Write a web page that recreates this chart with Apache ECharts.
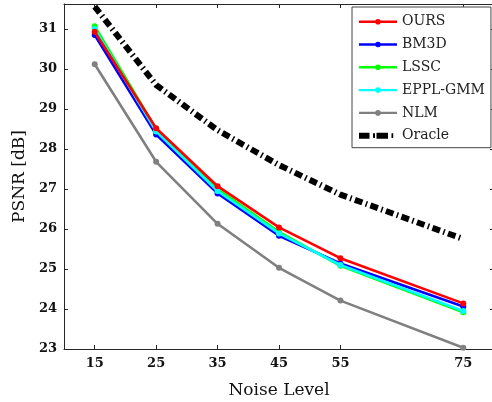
<!DOCTYPE html>
<html>
<head>
<meta charset="utf-8">
<script src="https://cdn.jsdelivr.net/npm/echarts@6/dist/echarts.min.js"></script>
<style>
html,body{margin:0;padding:0;background:#fff;}
#chart{width:492px;height:402px;}
</style>
</head>
<body>
<div id="chart"></div>
<script>
var noiseLevels = [15, 25, 35, 45, 55, 75];
var ours    = [30.93, 28.52, 27.07, 26.04, 25.27, 24.14];
var bm3d    = [30.85, 28.36, 26.89, 25.83, 25.14, 24.06];
var lssc    = [31.07, 28.50, 27.00, 25.93, 25.08, 23.92];
var epplGmm = [31.00, 28.44, 26.95, 25.89, 25.10, 23.95];
var nlm     = [30.12, 27.68, 26.13, 25.03, 24.21, 23.03];
var oracle  = [31.56, 29.60, 28.47, 27.60, 26.86, 25.75];
var yTicks  = [23, 24, 25, 26, 27, 28, 29, 30, 31];
var xTicks  = [15, 25, 35, 45, 55, 75];
var legendNames = ['OURS', 'BM3D', 'LSSC', 'EPPL-GMM', 'NLM', 'Oracle'];

function pairs(vals){ return noiseLevels.map(function(x,i){ return [x, vals[i]]; }); }

var FONT = 'DejaVu Serif';
var axisColor = '#262626';
var markerIcon = 'path://M0,1.8 L38,1.8 L38,4.2 L0,4.2 Z M16.2,3 A2.8,2.8 0 1,1 21.8,3 A2.8,2.8 0 1,1 16.2,3 Z M0,0 L0.01,0 L0.01,0.01 Z M37.99,5.99 L38,5.99 L38,6 Z';
var dashIcon = 'path://M0,0 L10.5,0 L10.5,6 L0,6 Z M14,0.6 L16,0.6 L16,5.4 L14,5.4 Z M17.5,0 L29,0 L29,6 L17.5,6 Z M32.5,0.6 L34.2,0.6 L34.2,5.4 L32.5,5.4 Z M37.99,2.99 L38,2.99 L38,3 Z';

function lineSeries(name, vals, color, z){
  return {
    name: name, type: 'line', data: pairs(vals), z: z,
    symbol: 'circle', symbolSize: 6,
    lineStyle: {color: color, width: 2.6},
    itemStyle: {color: color},
    emphasis: {disabled: true},
    animation: false
  };
}

var chart = echarts.init(document.getElementById('chart'));
var option = {
  animation: false,
  backgroundColor: '#fff',
  grid: {left: 64, top: 4, width: 430, height: 345, show: false,
         containLabel: false, outerBoundsMode: 'none'},
  xAxis: [
    {type: 'value', min: 10, max: 80, interval: 10,
     name: 'Noise Level', nameLocation: 'middle', nameGap: 33,
     nameTextStyle: {fontFamily: FONT, fontSize: 17, color: '#111'},
     axisLine: {show: true, lineStyle: {color: axisColor, width: 1}},
     axisTick: {show: true, inside: true, length: 4, lineStyle: {color: axisColor},
       customValues: xTicks},
     axisLabel: {fontFamily: FONT, fontSize: 13, fontWeight: 'bold', color: '#111', margin: 8,
       customValues: xTicks},
     splitLine: {show: false}},
    {type: 'value', min: 10, max: 80, position: 'top',
     axisLine: {show: true, lineStyle: {color: axisColor, width: 1}},
     axisTick: {show: true, inside: true, length: 4, lineStyle: {color: axisColor},
       customValues: xTicks},
     axisLabel: {show: false},
     splitLine: {show: false}}
  ],
  yAxis: [
    {type: 'value', min: 23, max: 31.625,
     name: 'PSNR [dB]', nameLocation: 'middle', nameGap: 27,
     nameTextStyle: {fontFamily: FONT, fontSize: 17, color: '#111'},
     axisLine: {show: true, lineStyle: {color: axisColor, width: 1}},
     axisTick: {show: true, inside: true, length: 4, lineStyle: {color: axisColor},
       customValues: yTicks},
     axisLabel: {fontFamily: FONT, fontSize: 13, fontWeight: 'bold', color: '#111', margin: 7,
       customValues: yTicks},
     splitLine: {show: false}},
    {type: 'value', min: 23, max: 31.625, position: 'right',
     axisLine: {show: true, lineStyle: {color: axisColor, width: 1}},
     axisTick: {show: true, inside: true, length: 4, lineStyle: {color: axisColor},
       customValues: yTicks},
     axisLabel: {show: false},
     splitLine: {show: false}}
  ],
  legend: {
    orient: 'vertical', left: 352, top: 7,
    padding: [7.7, 6, 5, 7],
    itemWidth: 38, itemHeight: 14, itemGap: 8.8,
    backgroundColor: '#fff', borderColor: '#444', borderWidth: 1, borderRadius: 0,
    textStyle: {fontFamily: FONT, fontSize: 14, color: '#222'},
    data: legendNames.map(function(n){
      return {name: n, icon: n === 'Oracle' ? dashIcon : markerIcon};
    })
  },
  series: [
    lineSeries('NLM', nlm, '#808080', 2),
    lineSeries('BM3D', bm3d, '#0000ff', 3),
    lineSeries('LSSC', lssc, '#00ff00', 4),
    lineSeries('EPPL-GMM', epplGmm, '#00ffff', 5),
    lineSeries('OURS', ours, '#ff0000', 6),
    {name: 'Oracle', type: 'line', data: pairs(oracle), z: 7,
     symbol: 'none', showSymbol: false,
     lineStyle: {color: '#000', width: 6, type: [8, 3.5, 1.5, 3.5]},
     itemStyle: {color: '#000'},
     emphasis: {disabled: true}, animation: false}
  ]
};
chart.setOption(option);
</script>
</body>
</html>
